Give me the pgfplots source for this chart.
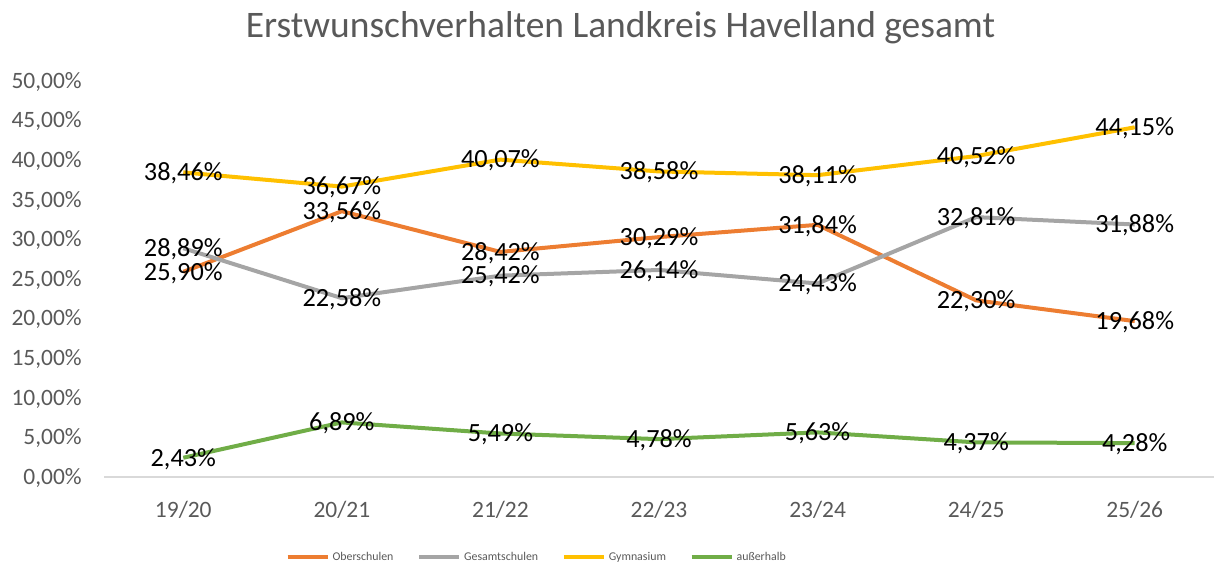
\documentclass[border=0pt]{standalone}
\usepackage{fontspec}
\setmainfont{Carlito}
\usepackage{pgfplots}
\pgfplotsset{compat=1.18}
\usepackage{pgfplotstable}
\definecolor{ober}{HTML}{ED7D31}
\definecolor{gesamt}{HTML}{A5A5A5}
\definecolor{gym}{HTML}{FFC000}
\definecolor{ausser}{HTML}{70AD47}
\definecolor{txtgray}{HTML}{595959}
\definecolor{axgray}{HTML}{D9D9D9}

\pgfplotstableread{
x y
0 25.90
1 33.56
2 28.42
3 30.29
4 31.84
5 22.30
6 19.68
}\tober
\pgfplotstableread{
x y
0 28.89
1 22.58
2 25.42
3 26.14
4 24.43
5 32.81
6 31.88
}\tgesamt
\pgfplotstableread{
x y
0 38.46
1 36.67
2 40.07
3 38.58
4 38.11
5 40.52
6 44.15
}\tgym
\pgfplotstableread{
x y
0 2.43
1 6.89
2 5.49
3 4.78
4 5.63
5 4.37
6 4.28
}\tausser

\pgfplotsset{
  lbl/.style={draw=none, mark=none, forget plot, point meta=y,
    nodes near coords={\pgfmathprintnumber[fixed,fixed zerofill,precision=2,use comma,assume math mode=true]{\pgfplotspointmeta}\%},
    nodes near coords align=center,
    every node near coord/.append style={font=\fontsize{19.7}{22}\selectfont, text=black, anchor=base, inner sep=0pt, yshift=-6.2pt}},
}

\begin{document}
\begin{tikzpicture}
\path[use as bounding box] (0,0) rectangle (910.5pt,425.25pt);
\node[font=\fontsize{28.1}{33}\selectfont, text=txtgray, anchor=base, inner sep=0pt] at (465.4pt,397.1pt) {Erstwunschverhalten Landkreis Havelland gesamt};
\begin{axis}[
  at={(78pt,67.5pt)}, anchor=south west,
  scale only axis, width=832.5pt, height=297pt,
  xmin=-0.5, xmax=6.5, ymin=0, ymax=50,
  clip=false,
  /pgf/number format/assume math mode=true,
  axis x line=bottom, axis y line=left,
  x axis line style={-, axgray, line width=1.2pt},
  y axis line style={draw=none},
  major tick length=0pt, tick style={draw=none},
  xtick={0,...,6},
  xticklabels={19/20,20/21,21/22,22/23,23/24,24/25,25/26},
  ytick={0,5,...,50},
  yticklabel={\pgfmathprintnumber[fixed,fixed zerofill,precision=2,use comma,assume math mode=true]{\tick}\%},
  yticklabel style={font=\fontsize{17.6}{20}\selectfont, text=txtgray, anchor=base east, inner sep=0pt, xshift=-16.5pt, yshift=-5.55pt},
  xticklabel style={font=\fontsize{17.6}{20}\selectfont, text=txtgray, anchor=base, inner sep=0pt, yshift=-30.4pt},
  legend columns=4,
  legend style={at={(0.389,-0.202)}, anchor=center, draw=none, fill=none,
    font=\fontsize{8.9}{10}\selectfont, text=txtgray,
    nodes={inner sep=0pt},
    /tikz/every even column/.append style={column sep=18pt},
    /tikz/every odd column/.append style={column sep=2.5pt}},
  legend image code/.code={\draw[line width=2.5pt] (0pt,0pt) -- (30pt,0pt);},
]
\addplot[ober, line width=3pt, line join=round, mark=none] table {\tober};
\addlegendentry{Oberschulen}
\addplot[gesamt, line width=3pt, line join=round, mark=none] table {\tgesamt};
\addlegendentry{Gesamtschulen}
\addplot[gym, line width=3pt, line join=round, mark=none] table {\tgym};
\addlegendentry{Gymnasium}
\addplot[ausser, line width=3pt, line join=round, mark=none] table {\tausser};
\addlegendentry{außerhalb}

\addplot[lbl] table {\tober};
\addplot[lbl] table {\tgesamt};
\addplot[lbl] table {\tgym};
\addplot[lbl] table {\tausser};
\end{axis}
\end{tikzpicture}
\end{document}
